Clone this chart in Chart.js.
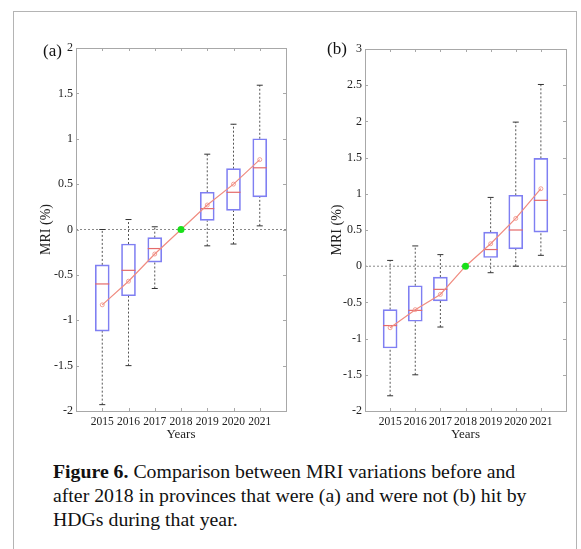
<!DOCTYPE html>
<html><head><meta charset="utf-8">
<script src="https://cdn.jsdelivr.net/npm/chart.js@4"></script>
<style>
body{margin:0;background:#fff;width:581px;height:549px;overflow:hidden;position:relative;font-family:"Liberation Serif",serif;}
#frame{position:absolute;left:13px;top:11px;width:562px;height:560px;border:1px solid #b4b4b4;}
canvas{position:absolute;}
#ca{left:0;top:0}
#cb{left:290px;top:0}
.lab{position:absolute;font-size:17px;color:#111;line-height:17px}
#cap{position:absolute;left:53px;top:459px;width:522px;white-space:nowrap;font-size:19.8px;letter-spacing:0px;line-height:24px;color:#111}
</style></head>
<body>
<div id="frame"></div>
<canvas id="ca" width="300" height="450"></canvas>
<canvas id="cb" width="291" height="450"></canvas>
<div class="lab" style="left:43px;top:42px">(a)</div>
<div class="lab" style="left:327px;top:40px">(b)</div>
<div id="cap"><b>Figure 6.</b> Comparison between MRI variations before and<br>after 2018 in provinces that were (a) and were not (b) hit by<br>HDGs during that year.</div>
<script>
// ---- data ----
const years = [2015, 2016, 2017, 2018, 2019, 2020, 2021];
const refYear = 2018;
const refValue = 0;

// Panel (a): provinces hit by HDGs in 2018
const aWhiskerLow  = [-1.93, -1.50, -0.65, null, -0.18, -0.16, 0.04];
const aQ1          = [-1.12, -0.73, -0.36, null,  0.10,  0.21, 0.36];
const aMedian      = [-0.60, -0.45, -0.21, null,  0.23,  0.41, 0.68];
const aQ3          = [-0.39, -0.16, -0.09, null,  0.41,  0.67, 1.00];
const aWhiskerHigh = [ 0.00,  0.11,  0.03, null,  0.83,  1.16, 1.59];
const aMean        = [-0.83, -0.57, -0.27, 0,     0.27,  0.50, 0.77];

// Panel (b): provinces not hit by HDGs in 2018
const bWhiskerLow  = [-1.79, -1.50, -0.84, null, -0.09, 0.00, 0.15];
const bQ1          = [-1.13, -0.76, -0.48, null,  0.12, 0.24, 0.47];
const bMedian      = [-0.82, -0.61, -0.32, null,  0.23, 0.50, 0.91];
const bQ3          = [-0.60, -0.27, -0.15, null,  0.47, 0.98, 1.49];
const bWhiskerHigh = [ 0.08,  0.28,  0.16, null,  0.95, 1.99, 2.51];
const bMean        = [-0.85, -0.60, -0.39, 0,     0.31, 0.66, 1.07];

const xTickLabels = years.map(String);

// ---- styles ----
const BOX = '#7f7ff2', MED = '#e56a6a', MEANC = '#f08c80', WHISK = '#555', GREEN = '#19e019';
const AX = '#a8a8a8', TXT = '#222';
const xTickFont = {family: '"Liberation Serif", serif', size: 11.5};
const yTickFont = {family: '"Liberation Serif", serif', size: 12};
const xTitleFont = {family: '"Liberation Serif", serif', size: 13};
const yTitleFont = {family: '"Liberation Serif", serif', size: 14};

const framePlugin = {
  id: 'frame',
  afterDatasetsDraw(chart) {
    const {ctx, chartArea: a, scales: {x, y}} = chart;
    ctx.save();
    ctx.strokeStyle = AX; ctx.lineWidth = 1;
    ctx.strokeRect(Math.round(a.left) + 0.5, Math.round(a.top) + 0.5, Math.round(a.right - a.left), Math.round(a.bottom - a.top));
    ctx.beginPath();
    x.ticks.forEach(t => {
      if (!xTickLabels.includes(String(t.value))) return;
      const px = Math.round(x.getPixelForValue(t.value)) + 0.5;
      ctx.moveTo(px, a.bottom); ctx.lineTo(px, a.bottom - 3);
      ctx.moveTo(px, a.top); ctx.lineTo(px, a.top + 3);
    });
    y.ticks.forEach(t => {
      const py = Math.round(y.getPixelForValue(t.value)) + 0.5;
      ctx.moveTo(a.left, py); ctx.lineTo(a.left + 3, py);
      ctx.moveTo(a.right, py); ctx.lineTo(a.right - 3, py);
    });
    ctx.stroke();
    ctx.restore();
  }
};

function makePanel(canvasId, lo, q1, med, q3, hi, mean, ymin, ymax, pad, yAxisW, xAxisH, yTitlePad) {
  const boxes = [], medians = [], caps = [], whiskers = [], means = [];
  years.forEach((yr, i) => {
    means.push({x: yr, y: mean[i]});
    if (q1[i] === null) return;
    boxes.push({x: yr, y: [q1[i], q3[i]]});
    medians.push({x: yr, y: med[i]});
    caps.push({x: yr, y: lo[i]}, {x: yr, y: hi[i]});
    whiskers.push({x: yr, y: lo[i]}, {x: yr, y: q1[i]}, {x: yr, y: NaN},
                  {x: yr, y: q3[i]}, {x: yr, y: hi[i]}, {x: yr, y: NaN});
  });
  const xMin = years[0] - 1, xMax = years[years.length - 1] + 1;
  return new Chart(document.getElementById(canvasId), {
    type: 'bar',
    data: {
      datasets: [
        {type: 'scatter', data: [{x: refYear, y: refValue}], pointRadius: 3.5, pointBackgroundColor: GREEN, pointBorderColor: GREEN, pointBorderWidth: 0},
        {type: 'line', data: means, borderColor: MEANC, borderWidth: 1.2, pointRadius: 2, pointBackgroundColor: 'rgba(0,0,0,0)', pointBorderColor: MEANC, pointBorderWidth: 0.8, tension: 0, fill: false},
        {type: 'scatter', data: medians, pointStyle: 'line', pointRadius: 7, pointBorderColor: MED, pointBorderWidth: 1.2},
        {type: 'scatter', data: caps, pointStyle: 'line', pointRadius: 3, pointBorderColor: '#333', pointBorderWidth: 1},
        {type: 'bar', data: boxes, barThickness: 14, borderWidth: 1, borderColor: BOX, backgroundColor: 'rgba(0,0,0,0)', borderSkipped: false},
        {type: 'line', data: whiskers, borderColor: WHISK, borderWidth: 1, borderDash: [2, 2], pointRadius: 0, spanGaps: false, fill: false},
        {type: 'line', data: [{x: xMin, y: 0}, {x: xMax, y: 0}], borderColor: '#888', borderWidth: 1, borderDash: [2, 2], pointRadius: 0, fill: false}
      ]
    },
    options: {
      responsive: false, animation: false,
      layout: {padding: pad},
      plugins: {legend: {display: false}, tooltip: {enabled: false}},
      scales: {
        x: {
          type: 'linear', min: xMin, max: xMax, offset: false,
          grid: {display: false, drawTicks: false}, border: {display: false},
          ticks: {stepSize: 1, autoSkip: false, maxRotation: 0, padding: 4, color: TXT, font: xTickFont,
                  callback: v => xTickLabels.includes(String(v)) ? String(v) : ''},
          title: {display: true, text: 'Years', color: TXT, font: xTitleFont, padding: {top: 0, bottom: 8}},
          afterFit: s => { s.height = xAxisH; }
        },
        y: {
          min: ymin, max: ymax,
          grid: {display: false, drawTicks: false}, border: {display: false},
          ticks: {stepSize: 0.5, padding: 3, color: TXT, font: yTickFont,
                  callback: v => String(Math.round(v * 10) / 10)},
          title: {display: true, text: 'MRI (%)', color: TXT, font: yTitleFont, padding: {top: yTitlePad, bottom: 0}},
          afterFit: s => { s.width = yAxisW; }
        }
      }
    },
    plugins: [framePlugin]
  });
}

makePanel('ca', aWhiskerLow, aQ1, aMedian, aQ3, aWhiskerHigh, aMean, -2, 2,
          {top: 48, right: 14, left: 0, bottom: 0}, 76, 39, 38);
makePanel('cb', bWhiskerLow, bQ1, bMedian, bQ3, bWhiskerHigh, bMean, -2, 3,
          {top: 49, right: 15, left: 0, bottom: 0}, 75, 39, 39);
</script>
</body></html>
